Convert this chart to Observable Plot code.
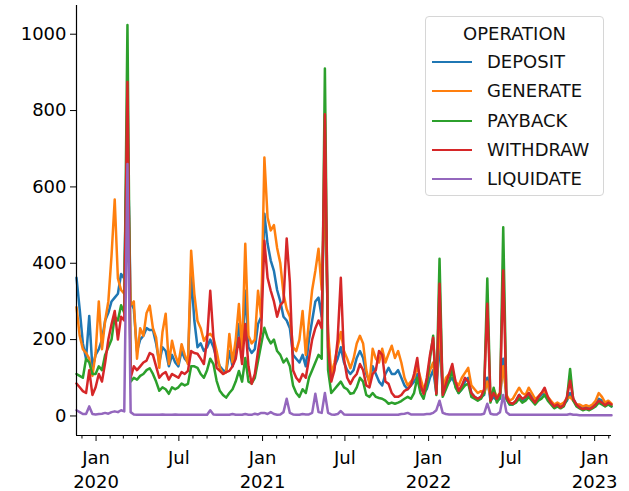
<!DOCTYPE html>
<html><head><meta charset="utf-8">
<script src="https://cdn.jsdelivr.net/npm/d3@7"></script>
<script src="https://cdn.jsdelivr.net/npm/@observablehq/plot@0.6"></script>
<style>
body{margin:0;background:#fff;}
#wrap{position:relative;width:629px;height:491px;font-family:"DejaVu Sans",sans-serif;}
#legend{position:absolute;left:425px;top:16px;width:179px;height:180px;border:1px solid #d6d6d6;border-radius:4px;background:rgba(255,255,255,0.85);box-sizing:border-box;font-size:18px;color:#111;}
#legend .title{position:absolute;left:0;right:0;top:6px;text-align:center;}
#legend .item{position:absolute;left:0;height:22px;}
#legend .item .sw{position:absolute;left:6px;top:10px;width:40px;height:2px;}
#legend .item .lab{position:absolute;left:61px;top:0;white-space:nowrap;line-height:22px;}
</style></head>
<body><div id="wrap"><div id="chart"></div><div id="legend"></div></div>
<script>
const series = ["DEPOSIT","GENERATE","PAYBACK","WITHDRAW","LIQUIDATE"];
const colors = ["#1f77b4","#ff7f0e","#2ca02c","#d62728","#9467bd"];
const yTicks = [0,200,400,600,800,1000];

const deposit = [362,280,190,150,262,125,160,175,200,250,270,300,310,320,372,360,760,
 300,280,170,200,210,230,225,
 225,190,140,180,170,130,160,140,130,170,150,140,373,250,180,190,170,180,200,
 180,150,130,120,115,170,130,170,241,160,328,180,165,175,241,260,
 530,451,407,380,330,300,260,250,230,160,150,140,160,130,200,250,300,310,260,650,200,100,
 130,150,180,140,120,110,120,152,170,152,110,90,130,110,90,80,110,126,110,110,120,100,80,70,
 80,90,110,80,60,70,100,120,60,200,60,80,90,100,80,60,70,90,100,60,50,
 45,50,55,100,40,50,40,45,150,45,30,30,40,55,40,45,60,50,35,
 45,55,60,45,35,25,30,25,30,40,60,45,30,25,20,25,20,25,30,45,40,30,30,25];
const generate = [285,210,175,165,150,105,165,300,175,250,300,420,567,360,330,320,700,
 290,300,150,230,210,270,289,
 230,205,126,220,268,136,197,160,136,188,160,136,433,320,249,230,197,210,215,
 205,170,126,110,115,215,140,200,293,170,451,210,190,200,328,257,
 677,520,486,500,440,400,320,280,260,180,170,200,275,160,250,330,380,438,330,600,220,110,
 140,180,220,170,150,125,150,190,210,190,120,84,176,150,140,176,140,163,184,152,170,140,100,80,
 90,100,130,100,70,90,120,140,70,250,70,100,110,120,90,80,100,113,126,80,70,
 60,65,60,90,50,70,50,60,130,55,40,45,60,74,60,55,74,60,45,
 50,60,65,50,40,30,35,30,35,45,50,40,30,30,25,28,25,30,40,60,50,35,40,32];
const payback = [110,105,100,150,140,110,110,130,120,160,180,200,260,250,290,270,1024,
 90,100,95,105,110,120,125,
 110,90,66,75,70,58,75,70,75,85,80,84,130,130,126,110,100,120,150,
 136,92,66,55,48,60,70,90,118,90,152,90,85,100,144,188,
 231,205,190,200,170,160,140,150,130,80,60,50,70,60,100,120,140,160,150,910,120,60,
 70,80,90,75,70,58,60,75,100,90,55,50,60,50,47,45,40,32,35,32,35,39,45,50,
 45,60,100,60,45,80,150,210,55,412,50,70,90,120,75,60,70,80,85,50,45,
 40,45,60,360,35,74,35,50,494,45,30,30,35,45,35,40,50,40,30,
 40,45,55,40,30,20,25,20,25,45,123,40,25,20,15,18,15,20,25,35,30,25,30,25];
const withdraw = [85,75,65,60,120,55,75,110,90,140,200,240,275,200,260,250,875,
 100,130,120,130,140,145,165,
 160,130,100,110,115,95,110,105,100,115,110,118,170,165,163,150,136,200,328,
 205,126,118,110,115,118,130,150,205,136,241,130,84,110,170,223,
 459,362,328,300,260,290,300,465,350,120,100,90,110,100,150,200,230,250,230,790,180,90,
 120,200,362,150,100,84,100,110,136,120,80,75,110,120,170,160,90,84,60,50,50,55,66,70,
 80,110,152,80,58,100,160,205,58,346,55,84,110,136,90,66,80,100,90,60,50,
 45,50,70,294,40,60,45,60,381,50,35,32,40,55,45,50,60,45,35,
 50,60,74,50,35,25,30,22,28,50,92,45,30,22,18,20,18,22,30,40,35,28,35,30];
const liquidate = [15,10,5,5,25,5,4,5,6,8,6,10,12,10,15,12,660,
 10,4,3,3,3,3,3,3,3,3,4,3,3,3,4,3,3,3,3,3,3,3,3,3,3,15,
 4,3,3,3,3,3,5,3,3,3,5,3,3,6,4,8,
 8,5,10,5,3,4,10,45,8,4,3,3,5,4,4,8,58,10,8,60,8,4,
 3,5,13,4,3,3,3,3,3,3,3,3,3,3,3,3,3,3,3,3,3,5,6,8,
 4,4,4,4,4,5,5,8,15,40,8,5,4,4,4,4,4,4,4,4,4,
 4,4,6,32,6,4,4,10,55,10,3,3,3,3,3,3,3,3,3,
 3,3,3,3,3,3,3,3,3,3,5,3,3,2,2,2,2,2,2,2,2,2,2,2];

// weekly dates
const start = Date.UTC(2019, 10, 19);
const dates = deposit.map((_, i) => new Date(start + i * 7 * 864e5));

const valuesBySeries = [deposit, generate, payback, withdraw, liquidate];
const data = series.flatMap((s, k) => valuesBySeries[k].map((v, i) => ({date: dates[i], value: v, op: s})));

const xDomain = d3.extent(dates);
const yDomain = [-51.2, 1075.2];
const majors = d3.utcMonth.every(6).range(xDomain[0], xDomain[1]);
const minors = d3.utcMonth.range(xDomain[0], xDomain[1]).filter(d => d.getUTCMonth() % 6 !== 0);

const chart = Plot.plot({
  width: 629, height: 491,
  marginLeft: 76, marginRight: 18, marginTop: 5, marginBottom: 56,
  style: {fontFamily: "DejaVu Sans", fontSize: "18px", color: "#000", background: "#fff", overflow: "visible"},
  x: {type: "utc", domain: xDomain},
  y: {domain: yDomain},
  color: {domain: series, range: colors},
  marks: [
    Plot.axisY({ticks: yTicks, tickSize: 6, tickPadding: 4, label: null, tickFormat: d => String(d)}),
    Plot.axisX({ticks: minors, tickSize: 3.5, tickFormat: () => "", label: null}),
    Plot.axisX({ticks: majors, tickSize: 6, tickPadding: 6, label: null, lineHeight: 1.3,
      tickFormat: d => d.getUTCMonth() === 0 ? `Jan\n${d.getUTCFullYear()}` : "Jul"}),
    Plot.lineY(data, {x: "date", y: "value", z: "op", stroke: "op", strokeWidth: 2.5, strokeLinejoin: "round"}),
    Plot.ruleX([xDomain[0]], {stroke: "#000", strokeWidth: 1.2}),
    Plot.ruleY([yDomain[0]], {stroke: "#000", strokeWidth: 1.2})
  ]
});
document.getElementById("chart").appendChild(chart);

// legend
const legend = document.getElementById("legend");
const t = document.createElement("div");
t.className = "title"; t.textContent = "OPERATION";
legend.appendChild(t);
series.forEach((s, k) => {
  const it = document.createElement("div");
  it.className = "item";
  it.style.top = Math.round(34 + k * 29.3) + "px";
  const sw = document.createElement("div");
  sw.className = "sw"; sw.style.background = colors[k];
  const lab = document.createElement("div");
  lab.className = "lab"; lab.textContent = s;
  it.appendChild(sw); it.appendChild(lab);
  legend.appendChild(it);
});
</script></body></html>
